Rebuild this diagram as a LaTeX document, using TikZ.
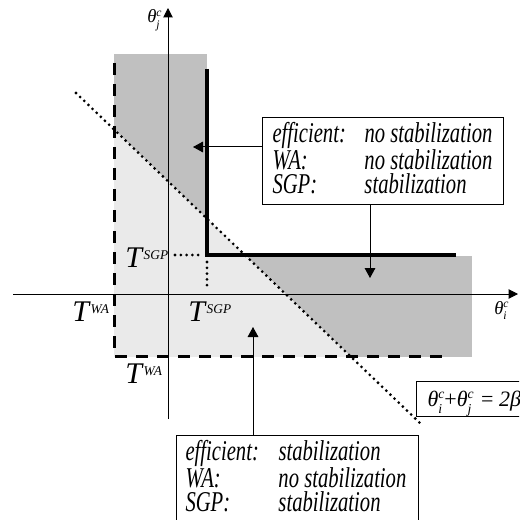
\documentclass[tikz,border=0pt]{standalone}
\usepackage{fontspec}
\usepackage{graphicx}
\setmainfont{Liberation Serif}
\newfontfamily\boxfont[FakeStretch=0.72]{Liberation Serif}
\usetikzlibrary{arrows.meta}
\definecolor{darkfill}{RGB}{192,192,192}
\definecolor{lightfill}{RGB}{234,234,234}
\newcommand{\thsc}[2]{\textit{θ}\makebox[0pt][l]{\raisebox{-0.3em}{\scalebox{0.62}{\textit{#1}}}}\raisebox{0.36em}{\scalebox{0.62}{\textit{#2}}}}
\newcommand{\Tlab}[1]{{\fontsize{22.5}{24}\selectfont\textit{T}}\raisebox{5.3pt}{\fontsize{10}{10}\selectfont\textit{#1}}}
\newcommand{\rowA}[2]{\makebox[165.75pt][l]{\makebox[69pt][l]{#1}#2}}
\newcommand{\rowB}[2]{\makebox[168pt][l]{\makebox[69.75pt][l]{#1}#2}}
\tikzset{
  axisline/.style={line width=0.75pt},
  dashline/.style={line width=2.25pt, dash pattern=on 9pt off 6.75pt},
  thickline/.style={line width=3pt, line join=miter},
  dotline/.style={line width=2.3pt, line cap=round, dash pattern=on 0pt off 4.3pt},
  smalldots/.style={line width=2.3pt, line cap=round, dash pattern=on 0pt off 4.35pt},
  tlab/.style={anchor=base west, inner sep=0pt},
  axlab/.style={anchor=base west, inner sep=0pt, font=\fontsize{14}{16}\selectfont},
  infobox/.style={draw, line width=0.75pt, inner ysep=0pt, anchor=north west, fill=white,
    align=left, font=\boxfont\itshape\fontsize{21.5}{18}\selectfont},
  eqbox/.style={draw, line width=0.75pt, inner sep=0pt, anchor=north west, fill=white,
    font=\fontsize{16.5}{18}\selectfont},
  callout/.style={line width=0.75pt, -{Triangle[length=7.5pt,width=8pt]}}
}
\begin{document}
\begin{tikzpicture}[x=0.75pt,y=-0.75pt]
\useasboundingbox (0,0) rectangle (519,520);
\clip (0,0) rectangle (519,520);
% fills
\begin{scope}
  \clip (-100,-75.8) -- (620,614.7) -- (620,-100) -- (-100,-100) -- cycle;
  \fill[darkfill] (114,54) rectangle (207,260);
  \fill[darkfill] (207,256) rectangle (472,357);
\end{scope}
\begin{scope}
  \clip (-100,-75.8) -- (620,614.7) -- (-100,620) -- cycle;
  \fill[lightfill] (114,54) rectangle (472,356.5);
\end{scope}
% axes
\coordinate (xs) at (13,294);
\coordinate (xe) at (518,294);
\coordinate (ys) at (168,419);
\coordinate (ye) at (168,8);
\draw[axisline,-{Triangle[length=7pt,width=7pt]}] (xs) -- (xe);
\draw[axisline,-{Triangle[length=7pt,width=7pt]}] (ys) -- (ye);
% boundaries
\coordinate (dtop) at (114,63);
\coordinate (dcorner) at (114,356);
\coordinate (dend) at (448,356);
\draw[dashline] (dtop) -- (dcorner) -- (dend);
\coordinate (ltop) at (207,69);
\coordinate (lcorner) at (207,255);
\coordinate (lend) at (456,255);
\draw[thickline] (ltop) -- (lcorner) -- (lend);
\coordinate (dA) at (76,93);
\coordinate (dB) at (421,424);
\draw[dotline] (dA) -- (dB);
\coordinate (h1) at (175,255);
\coordinate (h2) at (203,255);
\coordinate (v1) at (207,262);
\coordinate (v2) at (207,288);
\draw[smalldots] (h1) -- (h2);
\draw[smalldots] (v1) -- (v2);
% T labels
\node[tlab] (tsgpA) at (125,267) {\Tlab{SGP}};
\node[tlab] (twaA) at (72,321) {\Tlab{WA}};
\node[tlab] (tsgpB) at (188,321) {\Tlab{SGP}};
\node[tlab] (twaB) at (125,383) {\Tlab{WA}};
% axis labels
\node[axlab] (thj) at (147,23) {\thsc{j}{c}};
\node[axlab] (thi) at (494,314) {\thsc{i}{c}};
% boxes
\node[infobox, inner xsep=7.5pt] (box1) at (262,117) {%
\rule{0pt}{18.75pt}\rowA{efficient:}{no stabilization}\\
\rowA{WA:}{no stabilization}\\
\rowA{SGP:}{stabilization}\rule[-8.25pt]{0pt}{0pt}};
\node[infobox, inner xsep=6.75pt] (box2) at (176,435) {%
\rule{0pt}{18.75pt}\rowB{efficient:}{stabilization}\\
\rowB{WA:}{no stabilization}\\
\rowB{SGP:}{stabilization}\rule[-18pt]{0pt}{0pt}};
\node[eqbox] (eq) at (416,381) {\makebox[130pt][l]{\hspace{8.25pt}\rule[-5.25pt]{0pt}{24pt}\thsc{i}{c}+\thsc{j}{c}\hspace{1.5pt} = \textit{2β}}};
% callouts
\coordinate (tip1) at (193,147);
\coordinate (tip2) at (370,278);
\coordinate (tip3) at (253,327);
\draw[callout] (box1.west |- tip1) -- (tip1);
\draw[callout] (box1.south -| tip2) -- (tip2);
\draw[callout] (box2.north -| tip3) -- (tip3);
\end{tikzpicture}
\end{document}
